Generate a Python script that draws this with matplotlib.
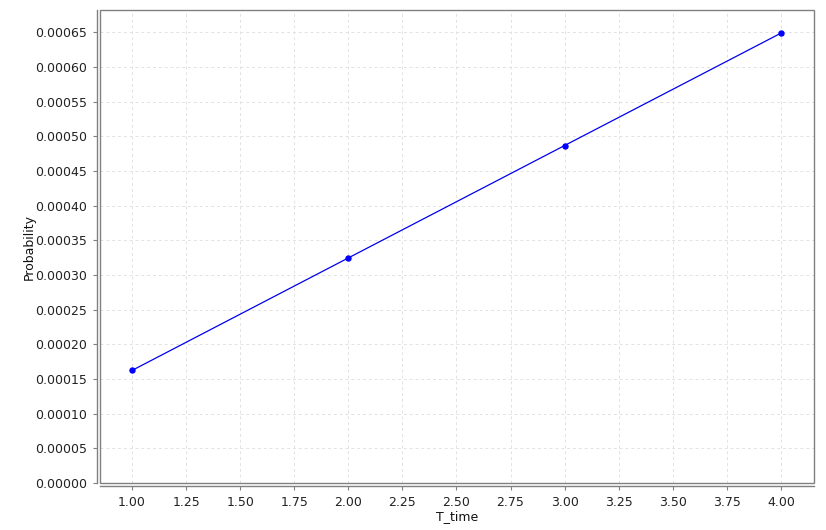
import matplotlib
matplotlib.use("Agg")
import matplotlib.pyplot as plt
from matplotlib.patches import Rectangle
import numpy as np

# data
t_time = [1.0, 2.0, 3.0, 4.0]
probability = [0.0001623, 0.0003245, 0.0004866, 0.0006486]

x_ticks = np.arange(1.0, 4.01, 0.25)
y_ticks = np.arange(0.0, 0.000651, 0.00005)

W, H = 826, 530
fig = plt.figure(figsize=(W / 100, H / 100), dpi=100)
ax = fig.add_axes([100 / W, (H - 483) / H, 714 / W, 473 / H])

ax.plot(t_time, probability, color="#0000ee", linewidth=0.9, marker="o",
        markersize=3.6, markerfacecolor="#0000ff", markeredgecolor="#0000ff")

ax.set_xlim(0.852, 4.153)
ax.set_ylim(0.0, 0.000682)
ax.set_xticks(x_ticks)
ax.set_xticklabels([f"{v:.2f}" for v in x_ticks])
ax.set_yticks(y_ticks)
ax.set_yticklabels([f"{v:.5f}" for v in y_ticks])

ax.grid(True, color="#e2e2e2", linestyle=(0, (3, 3)), linewidth=0.7)
ax.set_axisbelow(True)

for side in ["top", "right"]:
    ax.spines[side].set_visible(False)
for side in ["left", "bottom"]:
    ax.spines[side].set_position(("outward", 2.5))
    ax.spines[side].set_color("#808080")
    ax.spines[side].set_linewidth(1.0)

# plot outline box
ax.add_patch(Rectangle((0, 0), 1, 1, transform=ax.transAxes, fill=False,
                       edgecolor="#808080", linewidth=1.0, clip_on=False, zorder=5))

ax.tick_params(axis="both", colors="#808080", labelcolor="#222222",
               labelsize=9, length=3, width=0.8)
ax.set_xlabel("T_time", fontsize=9, color="#111111", labelpad=1)
ax.set_ylabel("Probability", fontsize=9, color="#111111", labelpad=0)

fig.savefig("out.png", dpi=100)
